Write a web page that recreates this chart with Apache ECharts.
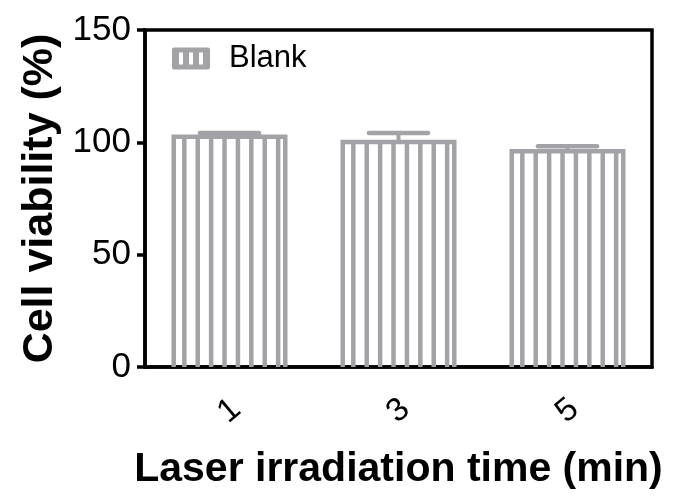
<!DOCTYPE html>
<html>
<head>
<meta charset="utf-8">
<script src="https://cdn.jsdelivr.net/npm/echarts@6/dist/echarts.min.js"></script>
<style>
  html, body { margin: 0; padding: 0; background: #fff; }
  #chart { width: 681px; height: 496px; }
</style>
</head>
<body>
<div id="chart"></div>
<script>
// laser irradiation time (min)
const categories = ['1', '3', '5']
// cell viability (%) and error
const means = [102.5, 100.2, 96]
const errors = [1.6, 4, 2.3]
const yTicks = [0, 50, 100, 150]

const GRAY = '#a3a3a7'
const FONT = '"Liberation Sans", Arial, sans-serif'

const chart = echarts.init(document.getElementById('chart'))

// striped bar + error bar
function renderBar(params, api) {
  const idx = api.value(0)
  const val = api.value(1)
  const err = api.value(2)
  const top = api.coord([idx, val])
  const base = api.coord([idx, 0])
  const hi = api.coord([idx, val + err])
  const bw = api.size([1, 0])[0] * 0.66
  const x0 = top[0] - bw / 2
  const x1 = top[0] + bw / 2
  const children = []
  // stripes inside
  for (let x = x0 + 10.6; x < x1 - 4; x += 13.4) {
    children.push({
      type: 'line',
      shape: { x1: x, y1: top[1], x2: x, y2: base[1] },
      style: { stroke: GRAY, lineWidth: 4.5 }
    })
  }
  // outline
  children.push({
    type: 'polyline',
    shape: { points: [[x0, base[1]], [x0, top[1]], [x1, top[1]], [x1, base[1]]] },
    style: { stroke: GRAY, lineWidth: 4.5, fill: null, lineJoin: 'miter' }
  })
  // error bar
  const cw = bw * 0.53
  children.push({
    type: 'line',
    shape: { x1: top[0], y1: top[1], x2: top[0], y2: hi[1] },
    style: { stroke: GRAY, lineWidth: 4 }
  })
  children.push({
    type: 'line',
    shape: { x1: top[0] - cw / 2, y1: hi[1], x2: top[0] + cw / 2, y2: hi[1] },
    style: { stroke: GRAY, lineWidth: 4.5, lineCap: 'round' }
  })
  return { type: 'group', children: children }
}

chart.setOption({
  animation: false,
  backgroundColor: '#fff',
  grid: {
    left: 145,
    right: 29,
    top: 30,
    bottom: 129,
    show: true,
    borderColor: '#000',
    borderWidth: 3.5,
    backgroundColor: 'transparent'
  },
  legend: {
    left: 167,
    top: 38,
    itemWidth: 38,
    itemHeight: 22,
    icon: 'path://M2,0H36Q38,0 38,2V20Q38,22 36,22H2Q0,22 0,20V2Q0,0 2,0Z M7,5V17H11V5Z M17,5V17H21V5Z M27,5V17H31V5Z',
    data: ['Blank'],
    textStyle: {
      fontFamily: FONT,
      fontSize: 31,
      color: '#000',
      padding: [0, 0, 0, 14]
    }
  },
  xAxis: {
    type: 'category',
    data: categories,
    name: 'Laser irradiation time (min)',
    nameLocation: 'middle',
    nameGap: 82,
    nameTextStyle: { fontFamily: FONT, fontSize: 41, fontWeight: 'bold', color: '#000' },
    axisLine: { lineStyle: { color: '#000', width: 3.5 } },
    axisTick: { alignWithLabel: true, length: 9, lineStyle: { color: '#000', width: 3.5 } },
    axisLabel: {
      rotate: 40,
      align: 'center',
      verticalAlign: 'middle',
      margin: 44,
      fontFamily: FONT,
      fontSize: 33,
      color: '#000'
    },
    splitLine: { show: false }
  },
  yAxis: {
    type: 'value',
    min: yTicks[0],
    max: yTicks[yTicks.length - 1],
    interval: 50,
    name: 'Cell viability (%)',
    nameLocation: 'middle',
    nameGap: 81,
    nameTextStyle: { fontFamily: FONT, fontSize: 43, fontWeight: 'bold', color: '#000' },
    axisLine: { show: true, lineStyle: { color: '#000', width: 3.5 } },
    axisTick: { show: true, length: 8, lineStyle: { color: '#000', width: 3.5 } },
    axisLabel: { margin: 14, fontFamily: FONT, fontSize: 35, color: '#000' },
    splitLine: { show: false }
  },
  series: [{
    name: 'Blank',
    type: 'custom',
    itemStyle: { color: GRAY },
    encode: { x: 0, y: 1 },
    data: means.map((m, i) => [i, m, errors[i]]),
    renderItem: renderBar
  }]
})
</script>
</body>
</html>
